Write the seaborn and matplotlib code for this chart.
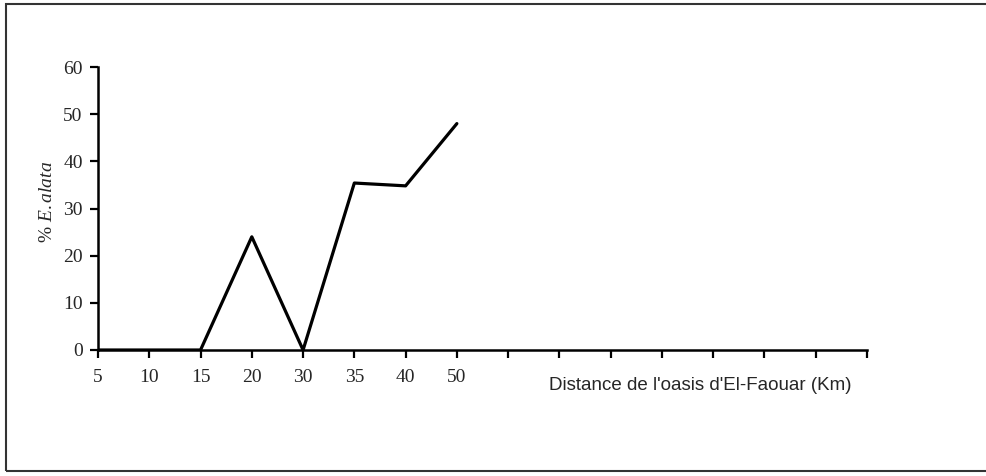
import numpy as np
import pandas as pd
import matplotlib
matplotlib.use("Agg")
import matplotlib.pyplot as plt
import seaborn as sns
from matplotlib.patches import Rectangle

# Data
distances = ["5", "10", "15", "20", "30", "35", "40", "50"]
pct_alata = [0, 0, 0, 24, 0, 35.4, 34.8, 48]
n_slots = 16  # axis carries empty tick slots after the last distance

df = pd.DataFrame({"pos": np.arange(len(distances)), "pct": pct_alata})

sns.set_style("white")
plt.rcParams["font.family"] = ["Liberation Serif", "DejaVu Serif"]
plt.rcParams["mathtext.fontset"] = "custom"
plt.rcParams["mathtext.it"] = "Liberation Serif:italic"
plt.rcParams["mathtext.rm"] = "Liberation Serif"

fig = plt.figure(figsize=(9.86, 4.76), dpi=100)
ax = fig.add_axes([98 / 986, 1 - 350 / 476, (867 - 98) / 986, (350 - 67) / 476])

sns.lineplot(data=df, x="pos", y="pct", color="black", linewidth=2.3, ax=ax)

ax.set_xlim(0, n_slots - 1)
ax.set_ylim(0, 60)
ax.set_xticks(np.arange(n_slots))
ax.set_xticklabels(distances + [""] * (n_slots - len(distances)))
ax.set_yticks(range(0, 61, 10))

for side in ["top", "right"]:
    ax.spines[side].set_visible(False)
for side in ["left", "bottom"]:
    ax.spines[side].set_linewidth(1.8)
    ax.spines[side].set_color("black")

ax.tick_params(axis="both", direction="out", length=6, width=1.6, color="black",
               labelsize=14, bottom=True, left=True)
ax.tick_params(axis="x", pad=8)
ax.tick_params(axis="y", pad=5)
ax.set_xlabel("")
ax.set_ylabel("")

# axis titles
fig.text(700 / 986, 1 - 386 / 476, "Distance de l'oasis d'El-Faouar (Km)",
         ha="center", va="center", fontsize=13.5,
         family=["Liberation Sans Narrow", "Liberation Sans", "DejaVu Sans"])
fig.text(47 / 986, 1 - 202 / 476, r"% $E. alata$", rotation=90,
         ha="center", va="center", fontsize=14)

# frame around the whole picture
fig.patches.append(Rectangle((6 / 986, 5 / 476), 1.2, 1 - 9 / 476,
                             transform=fig.transFigure, fill=False,
                             edgecolor="#333333", linewidth=1.5))

plt.savefig("out.png", dpi=100)
